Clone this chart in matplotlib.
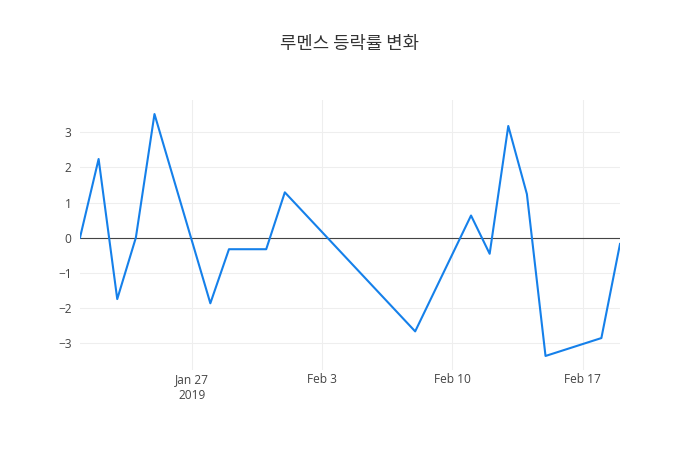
import numpy as np
import pandas as pd
import matplotlib
matplotlib.use('Agg')
import matplotlib.pyplot as plt
import matplotlib.dates as mdates

plt.rcParams['font.family'] = ['Open Sans', 'Noto Sans CJK KR', 'DejaVu Sans']

# daily change rate (%)
dates = ['2019-01-21', '2019-01-22', '2019-01-23', '2019-01-24', '2019-01-25',
         '2019-01-28', '2019-01-29', '2019-01-31', '2019-02-01', '2019-02-08',
         '2019-02-11', '2019-02-12', '2019-02-13', '2019-02-14', '2019-02-15',
         '2019-02-18', '2019-02-19']
rates = [0.0, 2.24, -1.75, 0.0, 3.52,
         -1.87, -0.33, -0.33, 1.29, -2.67,
         0.63, -0.46, 3.18, 1.24, -3.37,
         -2.86, -0.18]
title = '루멘스 등락률 변화'
xtick_dates = ['2019-01-27', '2019-02-03', '2019-02-10', '2019-02-17']
xtick_labels = ['Jan 27\n2019', 'Feb 3', 'Feb 10', 'Feb 17']
ytick_vals = [-3, -2, -1, 0, 1, 2, 3]

x = pd.to_datetime(dates)
y = np.array(rates)

fig = plt.figure(figsize=(7, 4.5), dpi=100)
ax = fig.add_axes([80 / 700, 80 / 450, 540 / 700, 270 / 450])

ax.plot(x, y, color='#1580ea', linewidth=1.5, zorder=3)
ax.axhline(0, color='#444444', linewidth=0.8, zorder=2)

ax.set_xlim(x[0], x[-1])
pad = (y.max() - y.min()) * 0.058
ax.set_ylim(y.min() - pad, y.max() + pad)

ax.set_xticks(mdates.date2num(pd.to_datetime(xtick_dates)))
ax.set_xticklabels(xtick_labels)
ax.set_yticks(ytick_vals)
ax.set_yticklabels([str(v).replace('-', '\u2212') for v in ytick_vals])

ax.grid(True, color='#eeeeee', linewidth=0.8, zorder=0)
ax.set_axisbelow(True)
for s in ax.spines.values():
    s.set_visible(False)
ax.tick_params(length=0, labelsize=8.6, colors='#444444')
ax.tick_params(axis='x', pad=2)
ax.tick_params(axis='y', pad=6)
for lbl in ax.get_xticklabels():
    lbl.set_linespacing(1.3)

fig.text(0.5, 1 - 44 / 450, title, ha='center', va='center', fontsize=12.8,
         color='#333333', family=['Noto Sans CJK KR', 'DejaVu Sans'])

fig.savefig('out.png', dpi=100, facecolor='white')
